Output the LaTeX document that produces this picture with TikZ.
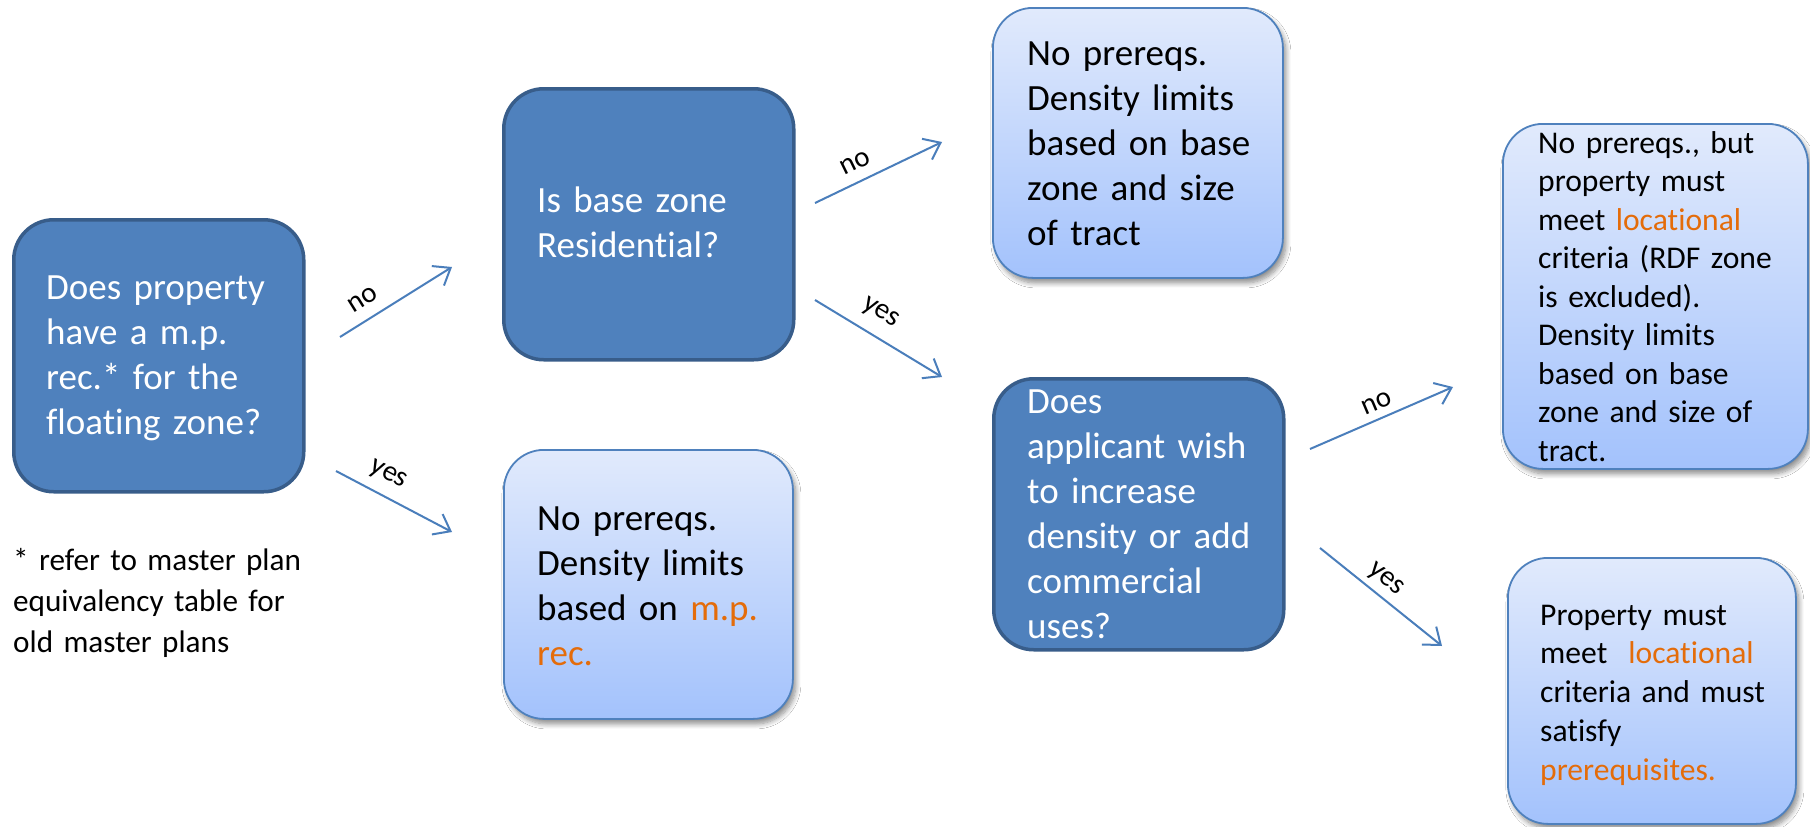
\documentclass[tikz,border=0pt]{standalone}
\usepackage{fontspec}
\setmainfont{Carlito}[Ligatures=NoCommon, RawFeature={-liga;-clig;-dlig}]
\usetikzlibrary{arrows.meta,shadows.blur}
\definecolor{darkfill}{HTML}{4F81BD}
\definecolor{darkline}{HTML}{385D8A}
\definecolor{lighttop}{HTML}{E1EAFC}
\definecolor{lightbot}{HTML}{A3C2FC}
\definecolor{lightline}{HTML}{4F81BD}
\definecolor{arrowc}{HTML}{4A7EBB}
\definecolor{orng}{HTML}{E46C0A}
\newcommand\tiplain{t\kern0pt i}
\begin{document}
\begin{tikzpicture}[x=1pt,y=-1pt,
  darkbox/.style={draw=darkline, line width=3.5pt, fill=darkfill, rounded corners=40pt, anchor=north west, inner sep=0pt},
  lightbox/.style={draw=lightline, line width=1.8pt, top color=lighttop, bottom color=lightbot, rounded corners=40pt, anchor=north west, inner sep=0pt,
    blur shadow={shadow xshift=3pt, shadow yshift=-5pt, shadow opacity=45, shadow blur radius=5pt, shadow blur steps=8}},
  bigtext/.style={anchor=base west, inner sep=0pt, text width=250pt, align=left, font=\fontsize{37}{45}\selectfont},
  smalltext/.style={anchor=base west, inner sep=0pt, text width=262pt, align=left, font=\fontsize{31.6}{38.5}\selectfont},
  flow/.style={draw=arrowc, line width=2pt, -{Straight Barb[length=15pt,width=23pt,line width=2pt]}},
  lbl/.style={inner sep=0pt, font=\fontsize{29}{34}\selectfont}
]
\useasboundingbox (0,0) rectangle (1810,827);
\fill[white] (0,0) rectangle (1810,827);

% boxes
\node[darkbox, minimum width=290pt, minimum height=272pt] (A) at (12,218) {};
\node[darkbox, minimum width=290pt, minimum height=271pt] (B) at (502,87) {};
\node[lightbox, minimum width=289pt, minimum height=269pt] (C) at (503,449) {};
\node[lightbox, minimum width=290pt, minimum height=270pt] (D) at (992,7) {};
\node[darkbox, minimum width=290pt, minimum height=271pt] (E) at (992,377) {};
\node[lightbox, minimum width=305pt, minimum height=345pt] (F) at (1502,123) {};
\node[lightbox, minimum width=288pt, minimum height=266pt] (G) at (1507,557) {};

% texts
\node[bigtext, text=white] (At) at (46,299) {Does property\\have a m.p.\\rec.* for the\\floating zone?};
\node[bigtext, text=white] (Bt) at (537,212) {Is base zone\\Residen\tiplain al?};
\node[bigtext] (Ct) at (537,530) {No prereqs.\\Density limits\\based on {\color{orng}m.p.}\\{\color{orng}rec.}};
\node[bigtext] (Dt) at (1027,65) {No prereqs.\\Density limits\\based on base\\zone and size\\of tract};
\node[bigtext, text=white] (Et) at (1027,413) {Does\\applicant wish\\to increase\\density or add\\commercial\\uses?};
\node[smalltext] (Ft) at (1538,153) {No prereqs., but\\property must\\meet {\color{orng}loca\tiplain onal}\\criteria (RDF zone\\is excluded).\\Density limits\\based on base\\zone and size of\\tract.};
\node[smalltext, text width=250pt, font=\fontsize{31.6}{38.75}\selectfont] (Gt) at (1540,625) {Property must\\meet\ \ {\color{orng}loca\tiplain onal}\\criteria and must\\satisfy\\{\color{orng}prerequisites.}};
\node[anchor=base west, inner sep=0pt, text width=292pt, align=left, font=\fontsize{31.2}{41}\selectfont] (note) at (13,570) {* refer to master plan\\equivalency table for\\old master plans};

% connector ends
\coordinate (anoS) at (340,337); \coordinate (anoE) at (452,267);
\coordinate (ayesS) at (336,471); \coordinate (ayesE) at (452,532);
\coordinate (bnoS) at (815,203); \coordinate (bnoE) at (942,142);
\coordinate (byesS) at (815,300); \coordinate (byesE) at (942,377);
\coordinate (enoS) at (1310,449); \coordinate (enoE) at (1453,387);
\coordinate (eyesS) at (1320,548); \coordinate (eyesE) at (1442,646);

\draw[flow] (anoS) -- (anoE);
\draw[flow] (ayesS) -- (ayesE);
\draw[flow] (bnoS) -- (bnoE);
\draw[flow] (byesS) -- (byesE);
\draw[flow] (enoS) -- (enoE);
\draw[flow] (eyesS) -- (eyesE);

% labels
\node[lbl, rotate=32] (lano) at (363,300) {no};
\node[lbl, rotate=-28] (layes) at (388,475) {yes};
\node[lbl, rotate=26] (lbno) at (855,163) {no};
\node[lbl, rotate=-31] (lbyes) at (880,313) {yes};
\node[lbl, rotate=23] (leno) at (1377,403) {no};
\node[lbl, rotate=-39] (leyes) at (1385,580) {yes};
\end{tikzpicture}
\end{document}
